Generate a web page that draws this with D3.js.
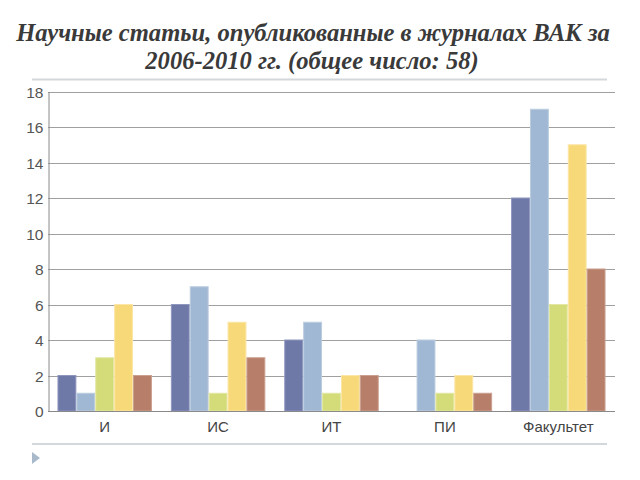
<!DOCTYPE html>
<html>
<head>
<meta charset="utf-8">
<script src="https://cdn.jsdelivr.net/npm/d3@7"></script>
<style>
  html, body { margin: 0; padding: 0; background: #fff; }
  svg { display: block; }
</style>
</head>
<body>
<svg id="chart" width="640" height="480"></svg>
<script>
const titleLines = ["Научные статьи, опубликованные в журналах ВАК за", "2006-2010 гг. (общее число: 58)"];
const categories = ["И", "ИС", "ИТ", "ПИ", "Факультет"];
const seriesNames = ["Ряд 1", "Ряд 2", "Ряд 3", "Ряд 4", "Ряд 5"];
const series1 = [2, 6, 4, 0, 12];
const series2 = [1, 7, 5, 4, 17];
const series3 = [3, 1, 1, 1, 6];
const series4 = [6, 5, 2, 2, 15];
const series5 = [2, 3, 2, 1, 8];
const yTicks = [0, 2, 4, 6, 8, 10, 12, 14, 16, 18];
const colors = ["#6f79a7", "#a0b8d3", "#d3dc78", "#f8d97a", "#b77f69"];
const strokes = ["#8f97bf", "#bccde0", "#e2e8a2", "#fbe6a6", "#caa090"];

const allSeries = [series1, series2, series3, series4, series5];
const svg = d3.select("#chart");

// Title
const title = svg.append("g");
const t1 = title.append("text").attr("x", 313).attr("y", 41)
  .attr("text-anchor", "middle")
  .style("font-family", "'Liberation Serif', 'DejaVu Serif', serif")
  .style("font-style", "italic").style("font-weight", "bold")
  .style("font-size", "22px").attr("fill", "#3a3a3a").text(titleLines[0]);
const w = t1.node().getComputedTextLength();
const fs = 22 * 594 / w;
t1.style("font-size", fs + "px");
title.append("text").attr("x", 312).attr("y", 69)
  .attr("text-anchor", "middle")
  .style("font-family", "'Liberation Serif', 'DejaVu Serif', serif")
  .style("font-style", "italic").style("font-weight", "bold")
  .style("font-size", fs + "px").attr("fill", "#3a3a3a").text(titleLines[1]);

// Separator lines
svg.append("line").attr("x1", 32).attr("x2", 607).attr("y1", 79.5).attr("y2", 79.5)
  .attr("stroke", "#d3d8dc").attr("stroke-width", 2);
svg.append("line").attr("x1", 32).attr("x2", 607).attr("y1", 444).attr("y2", 444)
  .attr("stroke", "#d3d8dc").attr("stroke-width", 2);
svg.append("path").attr("d", "M32,452 L40,458 L32,464 Z").attr("fill", "#a7b9cb");

// Scales
const pLeft = 48, pRight = 615, pTop = 91.5, pBottom = 411;
const x0 = d3.scaleBand().domain(categories).range([pLeft, pRight]).paddingInner(0.167).paddingOuter(0.0835);
const x1 = d3.scaleBand().domain(d3.range(allSeries.length)).range([0, x0.bandwidth()]);
const y = d3.scaleLinear().domain([0, 18]).range([pBottom, pTop]);

// Gridlines
svg.append("g").selectAll("line").data(yTicks.filter(d => d > 0)).join("line")
  .attr("x1", pLeft).attr("x2", pRight)
  .attr("y1", d => Math.round(y(d)) + 0.5).attr("y2", d => Math.round(y(d)) + 0.5)
  .attr("stroke", "#a0a0a0").attr("stroke-width", 1);

// Y axis
const yAxis = svg.append("g").attr("transform", `translate(${pLeft + 0.5},0)`)
  .call(d3.axisLeft(y).tickValues(yTicks).tickSize(0).tickPadding(5));
yAxis.select(".domain").attr("stroke", "#8a8a8a");
yAxis.selectAll("text").style("font-family", "'Liberation Sans', Arial, sans-serif")
  .style("font-size", "15.5px").attr("fill", "#555").attr("dy", "0.38em");

// Bars
const groups = svg.append("g").selectAll("g").data(categories).join("g")
  .attr("transform", d => `translate(${x0(d)},0)`);
groups.selectAll("rect").data((c, ci) => allSeries.map((s, si) => ({ si, v: s[ci] }))).join("rect")
  .attr("x", d => x1(d.si) + 0.5)
  .attr("width", x1.bandwidth() - 1)
  .attr("y", d => y(d.v))
  .attr("height", d => y(0) - y(d.v))
  .attr("fill", d => colors[d.si])
  .attr("stroke", d => strokes[d.si]).attr("stroke-width", 1);

// X axis
const xAxis = svg.append("g").attr("transform", `translate(0,${pBottom + 0.5})`)
  .call(d3.axisBottom(x0).tickSize(0).tickPadding(10).tickSizeOuter(0));
xAxis.select(".domain").attr("stroke", "#8a8a8a").attr("d", `M${pLeft},0H${pRight}`);
xAxis.selectAll("text").style("font-family", "'Liberation Sans', Arial, sans-serif")
  .style("font-size", "15px").attr("fill", "#444");
</script>
</body>
</html>
